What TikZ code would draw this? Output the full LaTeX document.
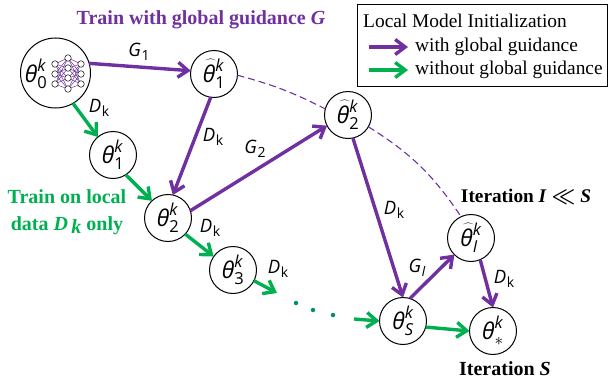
\documentclass[tikz,border=0pt]{standalone}
\usepackage{fontspec}
\setmainfont{Liberation Serif}
\newfontfamily\lblfont{Open Sans}
\usepackage{xcolor}
\usetikzlibrary{arrows.meta}
\definecolor{guidepurple}{HTML}{7030A0}
\definecolor{localgreen}{HTML}{00B050}

\newcommand{\scr}[1]{\mbox{\fontsize{16.5}{17}\selectfont #1}}
\newcommand{\thetaplain}[1]{{\lblfont\fontsize{23}{25}\selectfont$\mbox{\itshape θ}^{\scr{\itshape k}}_{\scr{#1}}$}}
\newcommand{\thetahat}[1]{{\lblfont\fontsize{23}{25}\selectfont$\mbox{\rlap{\smash{\hspace{1pt}\raisebox{3pt}{$\widehat{\mbox{\phantom{θ}}}$}}}\itshape θ}^{\scr{\itshape k}}_{\scr{#1}}$}}
\newcommand{\edgetxt}[2]{{\lblfont\fontsize{18.5}{20}\selectfont\textit{#1}\hspace{0.5pt}\raisebox{-3.5pt}{\fontsize{14}{15}\selectfont #2}}}

\tikzstyle{param} = [draw,circle,fill=white,line width=1pt,inner sep=0pt,outer sep=0pt,minimum size=47pt]
\tikzstyle{unit}  = [draw,circle,fill=white,line width=0.5pt,inner sep=0pt,minimum size=6.5pt]
\tikzstyle{guided} = [draw=guidepurple,line width=3.4pt,->]
\tikzstyle{plain}  = [draw=localgreen,line width=3.4pt,->]
\tikzstyle{jump}   = [draw=guidepurple,line width=1.1pt,dash pattern=on 7pt off 4pt]
\tikzstyle{pause}  = [circle,fill=teal!70!localgreen,inner sep=0pt,minimum size=4.5pt]
\tikzstyle{note}   = [font=\fontsize{19.4}{22}\selectfont,inner sep=0pt]
\tikzstyle{bnote}  = [font=\fontsize{20}{27}\selectfont\bfseries,inner sep=0pt,align=center]

\begin{document}
\begin{tikzpicture}[x=1pt,y=-1pt,>={Straight Barb[length=10pt,width=15pt,line width=3.4pt]}]
\useasboundingbox (0,0) rectangle (608,388);

\node[bnote, text=guidepurple] (title) at (201,20) {Train with global guidance \textit{G}};
\node[bnote, text=localgreen] (trainlocal) at (67,212) {Train on local\\data \textit{D\,\raisebox{-3pt}{k}} only};
\node[bnote, font=\fontsize{19.3}{24}\selectfont\bfseries] (iterI) at (526,197) {Iteration \textit{I} {\boldmath$\ll$} \textit{S}};
\node[bnote] (iterS) at (505,369) {Iteration \textit{S}};

% parameter nodes
\node[param, minimum size=70pt] (T0) at (55.5,73) {};
\node[inner sep=0pt] (T0txt) at (36,74) {\thetaplain{0}};
\node[param] (H1) at (214,74) {\thetahat{1}};
\node[param] (T1) at (113,155) {\thetaplain{1}};
\node[param] (T2) at (168,218) {\thetaplain{2}};
\node[param] (T3) at (233,270) {\thetaplain{3}};
\node[param] (H2) at (348,115) {\thetahat{2}};
\node[param] (HI) at (471,238) {\thetahat{\itshape I}};
\node[param] (TS) at (403,321) {\thetaplain{\itshape S}};
\node[param] (TX) at (493,331) {\thetaplain{$*$}};

% small network inside T0
\foreach \y [count=\i] in {64,74,84} {
	\node[unit] (NL\i) at (55,\y) {};
	\node[unit] (NR\i) at (81,\y) {};
}
\foreach \y [count=\i] in {58,68,78,89} {
	\node[unit] (NM\i) at (68,\y) {};
}
\foreach \i in {1,2,3} {
	\foreach \j in {1,2,3,4} {
		\draw[guidepurple,line width=0.5pt] (NL\i) -- (NM\j) (NM\j) -- (NR\i);
	}
}

\coordinate (gapin) at (277,293);
\coordinate (gapout) at (354,319);

\path
	(T0.16) edge[guided] (H1.172)
	(H1.-98) edge[guided] (T2.78)
	(T2.18) edge[guided] (H2.207)
	(H2.-78) edge[guided] (TS.90)
	(TS.73) edge[guided] (HI.225)
	(HI.-67) edge[guided] (TX.90);

\path
	(T0.-60) edge[plain] (T1.130)
	(T1.-57) edge[plain] (T2.133)
	(T2.-43) edge[plain] (T3.145)
	(T3.-27) edge[plain] (gapin)
	(gapout) edge[plain] (TS.180)
	(TS.-15) edge[plain] (TX.180);

\path
	(H1.-3) edge[jump, bend left=6] (H2.165)
	(H2.-30) edge[jump, bend left=12] (HI.115);

\node[pause] (dot1) at (296,303) {};
\node[pause] (dot2) at (313,310) {};
\node[pause] (dot3) at (333,315) {};

% edge labels
\node (lG1) at (139,52) {\edgetxt{G}{1}};
\node (lD0) at (99,108) {\edgetxt{D}{k}};
\node (lD1) at (213,137) {\edgetxt{D}{k}};
\node (lG2) at (255,149) {\edgetxt{G}{2}};
\node (lD2) at (210,228) {\edgetxt{D}{k}};
\node (lD3) at (278,269) {\edgetxt{D}{k}};
\node (lDH) at (394,210) {\edgetxt{D}{k}};
\node (lGI) at (417,268) {\edgetxt{G}{\itshape I}};
\node (lDI) at (504,279) {\edgetxt{D}{k}};

% legend
\node[draw, line width=1pt, minimum width=250pt, minimum height=82pt, inner sep=0pt] (legend) at (482,45) {};
\node[note, anchor=west] (legtitle) at (363,21) {Local Model Initialization};
\coordinate (pa) at (369,47);
\coordinate (pb) at (408,47);
\coordinate (ga) at (369,70);
\coordinate (gb) at (408,70);
\path (pa) edge[guided] (pb);
\path (ga) edge[plain] (gb);
\node[note, anchor=west] (legwith) at (415,47) {with global guidance};
\node[note, anchor=west] (legwithout) at (415,70) {without global guidance};

\end{tikzpicture}
\end{document}
